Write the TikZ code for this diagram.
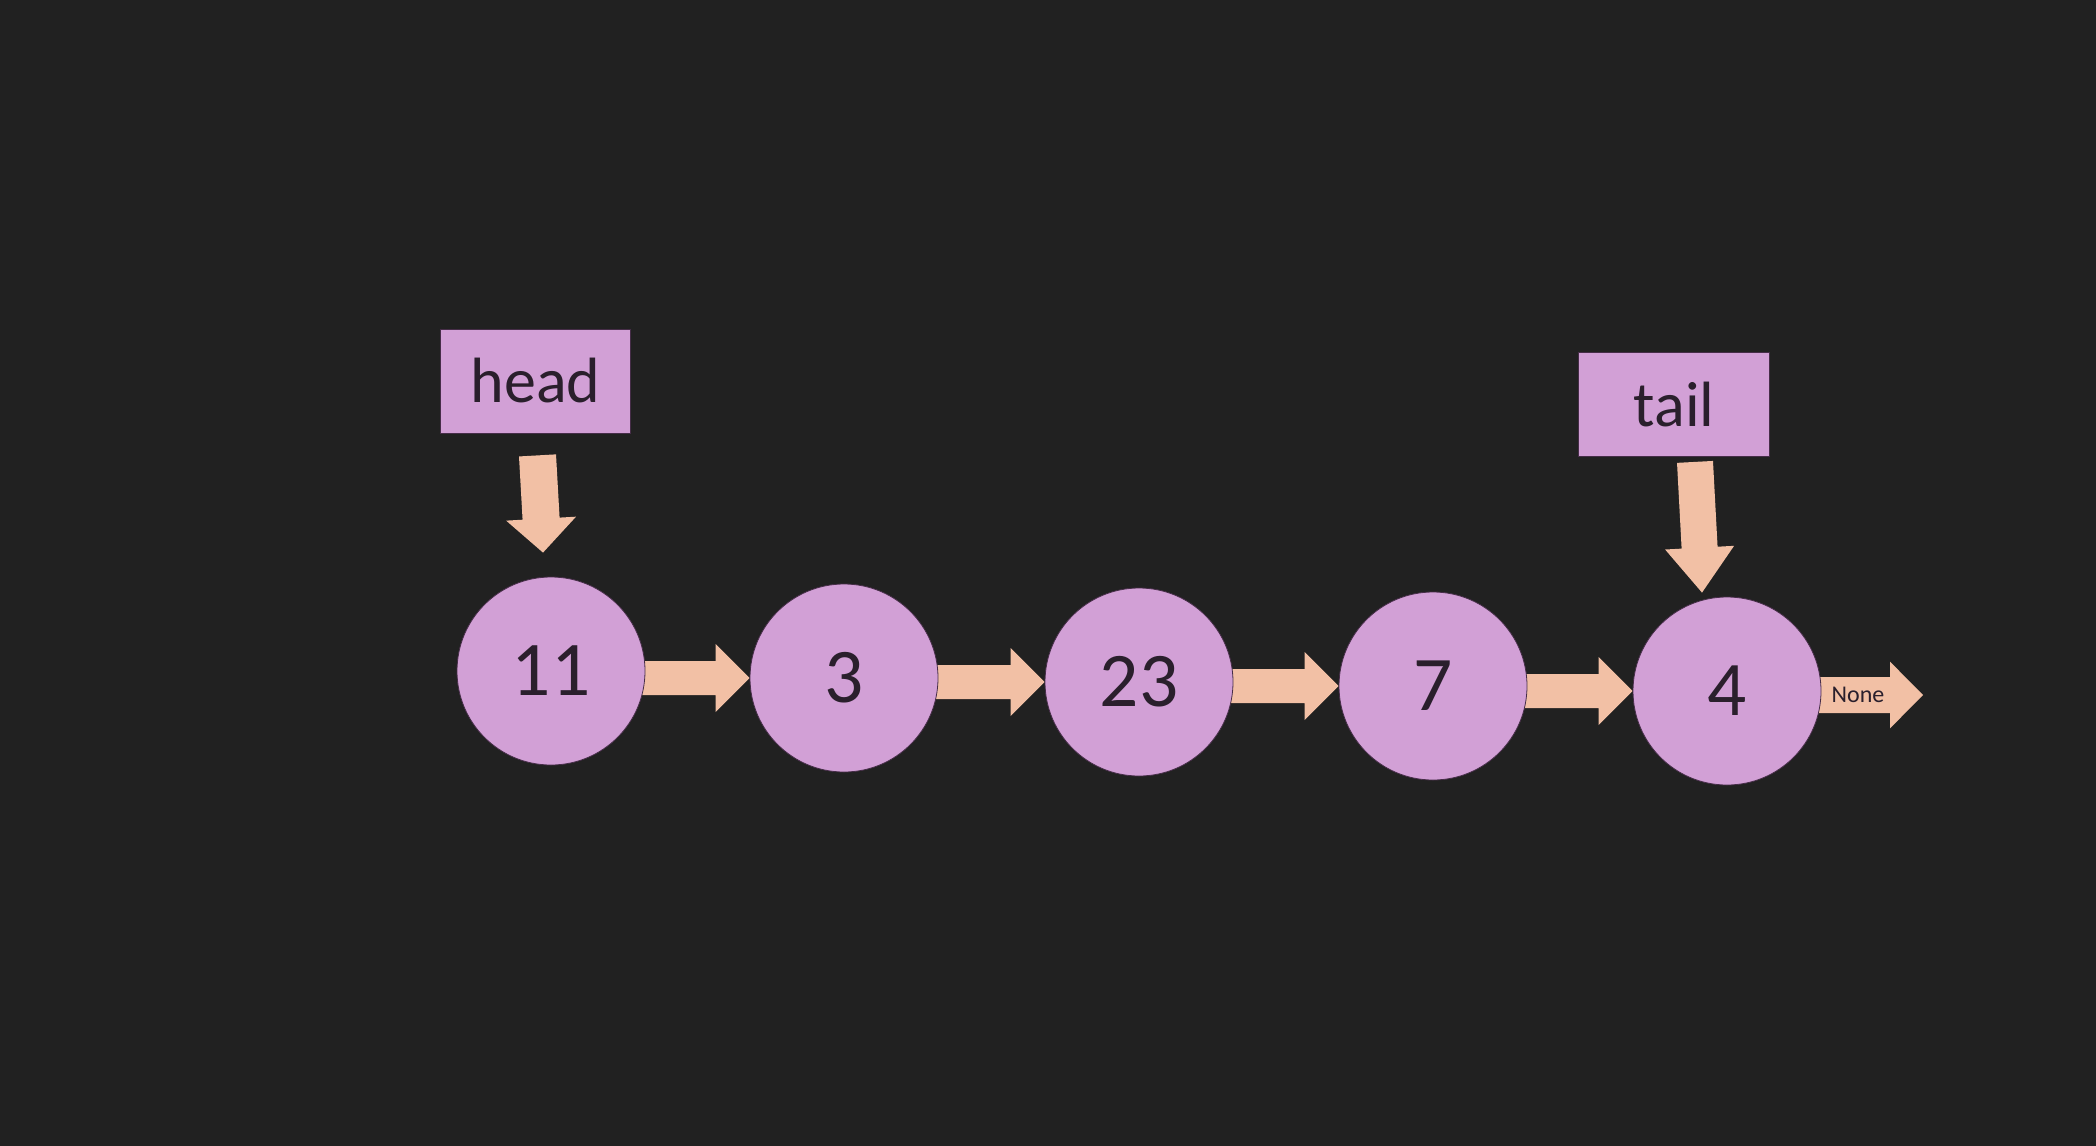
\documentclass[tikz,border=0pt]{standalone}
\usepackage{fontspec}
\setmainfont{Carlito}
\usetikzlibrary{calc}
\definecolor{bgc}{RGB}{33,33,33}
\definecolor{nodec}{RGB}{210,160,214}
\definecolor{arrc}{RGB}{242,192,165}
\definecolor{txtc}{RGB}{42,31,44}
\definecolor{edgec}{RGB}{70,45,72}
\pgfdeclarelayer{bglayer}
\pgfdeclarelayer{arrlayer}
\pgfsetlayers{bglayer,arrlayer,main}
% #1 start, #2 tip, #3 shaft half-width, #4 wing half-width, #5 head length
\newcommand\fatarrow[5]{%
  \coordinate (fa-h) at ($(#2)!#5!(#1)$);
  \fill[arrowfill] ($(#1)!#3!90:(#2)$) -- ($(fa-h)!#3!90:(#2)$) -- ($(fa-h)!#4!90:(#2)$) -- (#2)
    -- ($(fa-h)!#4!-90:(#2)$) -- ($(fa-h)!#3!-90:(#2)$) -- ($(#1)!#3!-90:(#2)$) -- cycle;}
\begin{document}
\begin{tikzpicture}[x=0.75pt,y=-0.75pt,
  arrowfill/.style={fill=arrc},
  listnode/.style={circle, fill=nodec, draw=edgec, line width=0.6pt, minimum size=141pt,
    inner sep=0pt, text=txtc, font=\fontsize{58}{60}\selectfont},
  labelbox/.style={rectangle, fill=nodec, draw=edgec, line width=0.6pt, minimum width=143pt,
    minimum height=78pt, inner sep=0pt, text=txtc, font=\fontsize{48}{50}\selectfont},
  endlabel/.style={text=txtc, inner sep=0pt, font=\fontsize{18}{20}\selectfont}]
\begin{pgfonlayer}{bglayer}
\fill[bgc] (0,0) rectangle (2096,1146);
\end{pgfonlayer}
\path[use as bounding box] (0,0) rectangle (2096,1146);

\node[listnode] (n11) at (551,671) {11};
\node[listnode] (n3)  at (844,678) {3};
\node[listnode] (n23) at (1139,682) {23};
\node[listnode] (n7)  at (1433,686) {7};
\node[listnode] (n4)  at (1727,691) {4};

\node[labelbox] (head) at (535.5,381) {head};
\node[labelbox] (tail) at (1674,404.5) {tail};

\begin{pgfonlayer}{arrlayer}
\coordinate (s1) at (n3.west -| n11.center);
\coordinate (s2) at (n23.west -| n3.center);
\coordinate (s3) at (n7.west -| n23.center);
\coordinate (s4) at (n4.west -| n7.center);
\fatarrow{s1}{n3.west}{12.75pt}{25.5pt}{25.5pt}
\fatarrow{s2}{n23.west}{12.75pt}{25.5pt}{25.5pt}
\fatarrow{s3}{n7.west}{12.75pt}{25.5pt}{25.5pt}
\fatarrow{s4}{n4.west}{12.75pt}{25.5pt}{25.5pt}
\coordinate (nonetip) at ($(n4.center)+(196,4)$);
\coordinate (s5) at ($(n4.center)+(0,4)$);
\fatarrow{s5}{nonetip}{13.5pt}{25pt}{24.75pt}
\end{pgfonlayer}

\coordinate (ha1) at ($(head.south)+(2,22)$);
\coordinate (ha2) at ($(n11.north)+(-8,-24)$);
\fatarrow{ha1}{ha2}{13.9pt}{26.25pt}{25.5pt}
\coordinate (ta1) at ($(tail.south)+(21,5)$);
\coordinate (ta2) at ($(n4.north)+(-25,-4)$);
\fatarrow{ta1}{ta2}{13.5pt}{25.9pt}{33.75pt}

\node[endlabel] (none) at ($(n4.center)+(131,4)$) {None};
\end{tikzpicture}
\end{document}
